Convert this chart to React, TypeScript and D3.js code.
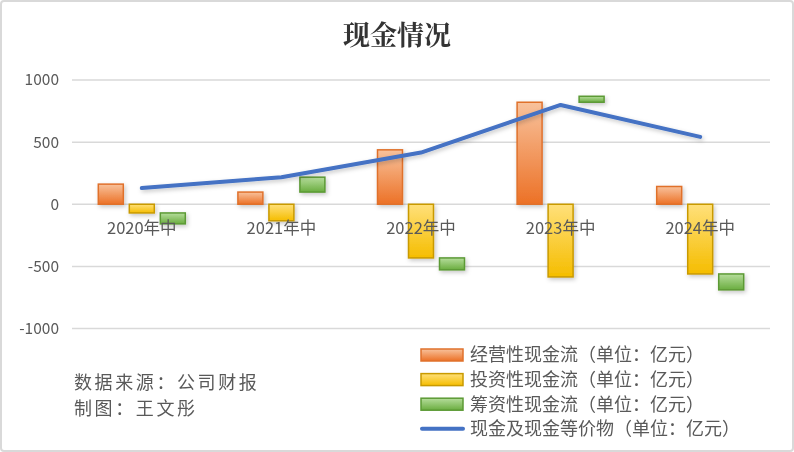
import React from 'react'
import * as d3 from 'd3'

const categories = ['2020年中', '2021年中', '2022年中', '2023年中', '2024年中']
const operating = [162, 98, 438, 821, 143]
const investing = [-70, -133, -432, -585, -561]
const financing = [-88, 120, -96, 48, -128]
const cashEq = [130, 218, 416, 799, 542]
const yTicks = [-1000, -500, 0, 500, 1000]

const seriesKeys = ['operating', 'investing', 'financing']
const seriesLabels = [
  '经营性现金流（单位：亿元）',
  '投资性现金流（单位：亿元）',
  '筹资性现金流（单位：亿元）',
]
const lineLabel = '现金及现金等价物（单位：亿元）'

const W = 794
const H = 452
const cjk = '"Noto Sans CJK SC", "Noto Sans", sans-serif'
const serifCjk = '"Noto Serif CJK SC", "Noto Serif SC", serif'

const colors = [
  { top: '#f8c29c', bottom: '#ec7126', stroke: '#e0712c' },
  { top: '#ffe07a', bottom: '#f5bd00', stroke: '#c99a00' },
  { top: '#b6dd9c', bottom: '#6aad3f', stroke: '#5c9a35' },
]

export default function App() {
  const x = d3.scaleBand<string>().domain(categories).range([72, 770])
  const inner = d3.scaleBand<string>().domain(seriesKeys).range([-43.5, 43.5]).paddingInner(0.194)
  const y = d3.scaleLinear().domain([-1000, 1000]).range([328.5, 80])

  const rows = categories.map((c, i) => ({
    cat: c,
    operating: operating[i],
    investing: investing[i],
    financing: financing[i],
  }))
  // financing bars sit on top of the other series, like Excel's stacked columns
  const stacked = d3.stack<any>().keys(seriesKeys).offset(d3.stackOffsetDiverging)(rows)

  const line = d3.line<number>()
    .x((_, i) => x(categories[i])! + x.bandwidth() / 2)
    .y(d => y(d))

  return (
    <div style={{ position: 'fixed', left: 0, top: 0 }}>
      <svg width={W} height={H} style={{ display: 'block' }}>
        <defs>
          {colors.map((c, i) => (
            <linearGradient key={i} id={`g${i}`} x1="0" y1="0" x2="0" y2="1">
              <stop offset="0%" stopColor={c.top} />
              <stop offset="100%" stopColor={c.bottom} />
            </linearGradient>
          ))}
          <filter id="shadow" x="-30%" y="-30%" width="160%" height="160%">
            <feDropShadow dx="1.5" dy="2" stdDeviation="2" floodColor="#000" floodOpacity="0.22" />
          </filter>
        </defs>
        <rect x={1} y={1} width={W - 2} height={H - 2} rx={3} fill="#fff" stroke="#d9d9d9" strokeWidth={2} />

        <text x={397} y={45} textAnchor="middle" fontFamily={serifCjk} fontWeight="bold" fontSize={27} fill="#333">
          现金情况
        </text>

        {yTicks.map(t => (
          <g key={t}>
            <line x1={72} x2={770} y1={y(t)} y2={y(t)} stroke="#d9d9d9" strokeWidth={1.5} />
            <text x={59} y={y(t)} dy="0.35em" textAnchor="end" fontFamily={cjk} fontSize={15.5} fill="#595959">
              {t}
            </text>
          </g>
        ))}

        {stacked.map((s, si) => (
          <g key={s.key} filter="url(#shadow)">
            {s.map((d, i) => {
              const top = y(Math.max(d[0], d[1]))
              const bot = y(Math.min(d[0], d[1]))
              return (
                <rect
                  key={i}
                  x={x(categories[i])! + x.bandwidth() / 2 + inner(s.key)!}
                  y={top}
                  width={inner.bandwidth()}
                  height={bot - top}
                  fill={`url(#g${si})`}
                  stroke={colors[si].stroke}
                  strokeWidth={1.5}
                />
              )
            })}
          </g>
        ))}

        {categories.map(c => (
          <text key={c} x={x(c)! + x.bandwidth() / 2} y={228} dy="0.35em" textAnchor="middle" fontFamily={cjk} fontSize={16.5} fill="#595959">
            {c}
          </text>
        ))}

        <path d={line(cashEq)!} fill="none" stroke="#4472c4" strokeWidth={4} strokeLinecap="round" strokeLinejoin="round" filter="url(#shadow)" />

        {seriesLabels.map((l, i) => (
          <g key={l} transform={`translate(421,${355 + i * 24.6})`}>
            <rect x={0} y={-6} width={42} height={12} fill={`url(#g${i})`} stroke={colors[i].stroke} strokeWidth={1.5} />
            <text x={49} y={0} dy="0.35em" fontFamily={cjk} fontSize={18} fill="#595959">{l}</text>
          </g>
        ))}
        <g transform={`translate(421,${355 + 3 * 24.6})`}>
          <line x1={1} x2={42} y1={0} y2={0} stroke="#4472c4" strokeWidth={4} strokeLinecap="round" />
          <text x={49} y={0} dy="0.35em" fontFamily={cjk} fontSize={18} fill="#595959">{lineLabel}</text>
        </g>

        <text x={74} y={383} dy="0.35em" fontFamily={cjk} fontSize={18} letterSpacing={2.6} fill="#595959">数据来源：公司财报</text>
        <text x={74} y={409} dy="0.35em" fontFamily={cjk} fontSize={18} letterSpacing={2.6} fill="#595959">制图：王文彤</text>
      </svg>
    </div>
  )
}
